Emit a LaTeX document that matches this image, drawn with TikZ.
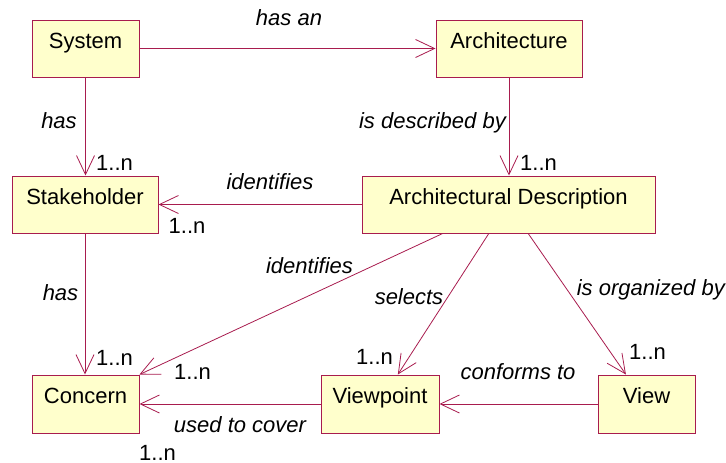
\documentclass[tikz,border=0pt]{standalone}
\usepackage{fontspec}
\setmainfont{Liberation Sans}
\usetikzlibrary{arrows.meta,calc}
\definecolor{umlline}{RGB}{168,28,78}
\definecolor{umlfill}{RGB}{255,255,204}
\begin{document}
\begin{tikzpicture}[x=1pt,y=-1pt,
  box/.style={draw=umlline, fill=umlfill, line width=1pt, rectangle, inner sep=0pt,
    font=\fontsize{22}{26}\selectfont, text height=28pt, text depth=29pt, minimum height=57pt},
  conn/.style={draw=umlline, line width=0.8pt, -{Straight Barb[length=19pt,width=18pt,line width=0.8pt]}},
  lbl/.style={font=\fontsize{22}{26}\selectfont\itshape, anchor=base, inner sep=0pt},
  mult/.style={font=\fontsize{22}{26}\selectfont, anchor=base, inner sep=0pt}]
\useasboundingbox (0,0) rectangle (726,463);
% boxes
\node[box, minimum width=107pt] (sys) at (85.5,48.5) {System};
\node[box, minimum width=146pt] (arch) at (509,48.5) {Architecture};
\node[box, minimum width=146pt] (stk) at (85,204.5) {Stakeholder};
\node[box, minimum width=293pt] (ad) at (508.5,204.5) {Architectural Description};
\node[box, minimum width=107pt, minimum height=58pt] (con) at (85.5,404) {Concern};
\node[box, minimum width=118pt, minimum height=58pt] (vp) at (380,404) {Viewpoint};
\node[box, minimum width=97pt, minimum height=58pt] (vw) at (646.5,404) {View};
% connectors
\draw[conn] (sys) -- (arch);
\draw[conn] (sys.south) -- (sys.south |- stk.north);
\draw[conn] (arch.south) -- (arch.south |- ad.north);
\draw[conn] (ad.west) -- (stk.east);
\draw[conn] (stk.south) -- (stk.south |- con.north);
\draw[conn] ($(ad.south west)!0.276!(ad.south east)$) -- (con.north east);
\draw[conn] ($(ad.south west)!0.433!(ad.south east)$) -- ($(vp.north west)!0.65!(vp.north east)$);
\draw[conn] ($(ad.south west)!0.567!(ad.south east)$) -- ($(vw.north west)!0.29!(vw.north east)$);
\draw[conn] (vw.west) -- (vp.east);
\draw[conn] (vp.west) -- (con.east);
% labels
\node[lbl] (l1) at (289,25) {has an};
\node[lbl] (l2) at (59,128) {has};
\node[mult] (m1) at (114.5,170) {1..n};
\node[lbl, anchor=base east] (l3) at (506,128) {is described by};
\node[mult] (m2) at (538.5,170) {1..n};
\node[lbl] (l4) at (270,189) {identifies};
\node[mult] (m3) at (187,233) {1..n};
\node[lbl] (l5) at (60.5,300) {has};
\node[mult] (m4) at (114.5,365) {1..n};
\node[lbl] (l6) at (309.5,273) {identifies};
\node[mult] (m5) at (192.5,379) {1..n};
\node[lbl] (l7) at (240,432) {used to cover};
\node[mult] (m6) at (157.5,460) {1..n};
\node[mult] (m7) at (374.5,364) {1..n};
\node[lbl] (l8) at (409,304) {selects};
\node[lbl, anchor=base east] (l9) at (725,295) {is organized by};
\node[mult] (m8) at (647.5,359) {1..n};
\node[lbl] (l10) at (518,379) {conforms to};
\end{tikzpicture}
\end{document}
